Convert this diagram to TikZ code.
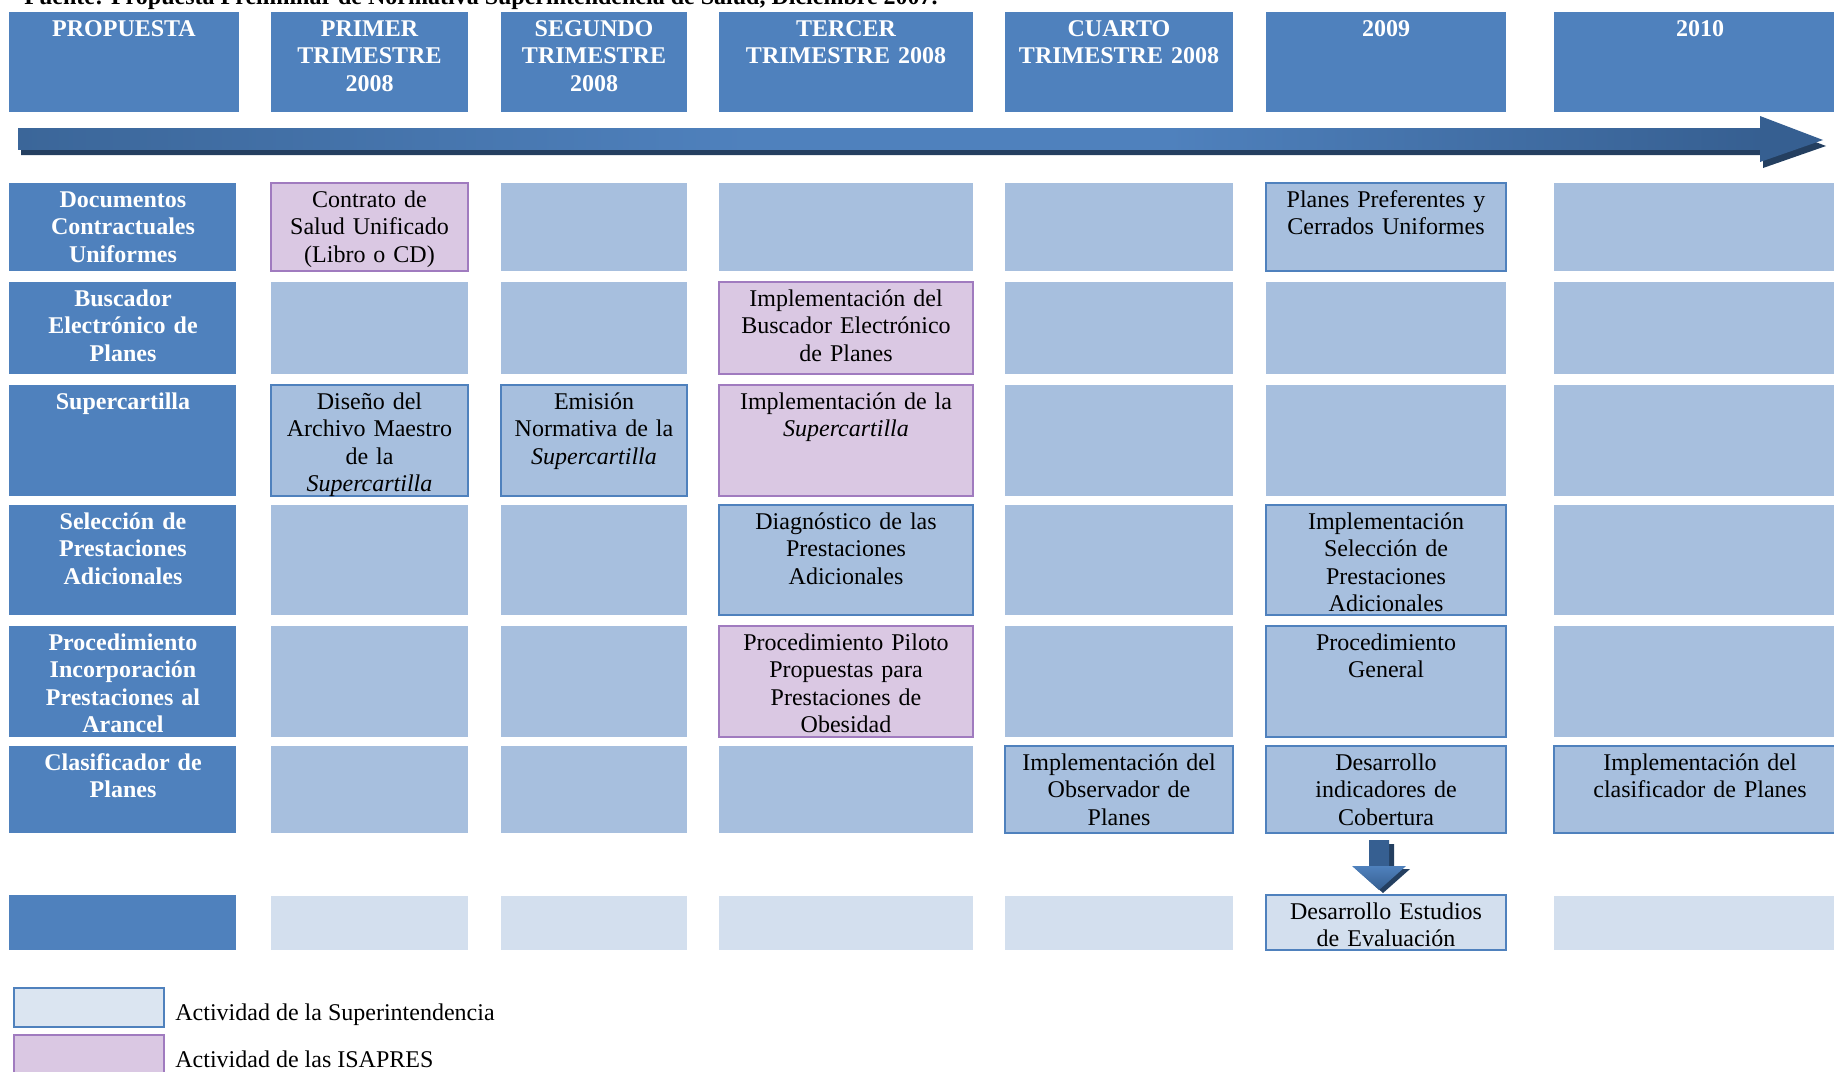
\documentclass[tikz,border=0pt]{standalone}
\usepackage{fontspec}
\setmainfont{Liberation Serif}
\usetikzlibrary{fit,calc}

\definecolor{hdrblue}{HTML}{4F81BD}
\definecolor{cellblue}{HTML}{A7BFDE}
\definecolor{palecell}{HTML}{D3DFEE}
\definecolor{isafill}{HTML}{DAC8E3}
\definecolor{isaline}{HTML}{A07BBF}
\definecolor{legfill}{HTML}{DBE5F1}
\definecolor{arrowdark}{HTML}{365F91}
\definecolor{arrowmid}{HTML}{3B6699}
\definecolor{arrowshadow}{HTML}{243F60}

% band of the time line: darker at both ends, lighter in the middle
\pgfdeclarehorizontalshading{timeline}{100bp}{color(0bp)=(arrowmid);
  color(25bp)=(arrowmid); color(46bp)=(hdrblue); color(58bp)=(hdrblue);
  color(75bp)=(arrowdark); color(100bp)=(arrowdark)}

\tikzset{
  txt/.style={font=\fontsize{12}{13.8}\selectfont},
  celltext/.style={txt, anchor=north, text width=120pt, align=center,
    inner xsep=0pt, inner ysep=2.2pt, execute at begin node=\strut},
  hdrtext/.style={celltext, text=white, font=\fontsize{12}{13.8}\selectfont\bfseries},
  supcell/.style={draw=hdrblue, fill=cellblue, line width=1pt, inner sep=0pt, outer sep=0pt},
  isacell/.style={draw=isaline, fill=isafill, line width=1pt, inner sep=0pt, outer sep=0pt},
}

\begin{document}
\begin{tikzpicture}[x=0.5pt, y=-0.5pt]
\path[use as bounding box, clip] (0,0) rectangle (1834,1071);

% source line (only its lower part is on the page)
\node[font=\fontsize{12}{13.8}\selectfont\bfseries, anchor=base west, inner sep=0pt] (fuente)
    at (24,4) {Fuente: Propuesta Preliminar de Normativa Superintendencia de Salud, Diciembre 2007.};

% column headers
\foreach \xa/\xb/\nm/\hd in {9/239/hProp/PROPUESTA,
        271/468/hPrimer/{PRIMER\\TRIMESTRE\\2008},
        501/687/hSegundo/{SEGUNDO\\TRIMESTRE\\2008},
        719/973/hTercer/{TERCER\\TRIMESTRE 2008},
        1005/1233/hCuarto/{CUARTO\\TRIMESTRE 2008},
        1266/1506/hNueve/2009, 1554/1846/hDiez/2010}{
    \fill[hdrblue] (\xa,12) rectangle (\xb,112);
    \node[hdrtext] (\nm) at ({(\xa+\xb)/2},12) {\hd};
}

% time line
\fill[arrowshadow] (21,134) -- (1763,134) -- (1763,122) -- (1826,146)
    -- (1763,168) -- (1763,155) -- (21,155) -- cycle;
\shade[shading=timeline] (18,128) rectangle (1761,149);
\fill[arrowdark] (1760,116) -- (1823,140) -- (1760,162) -- cycle;

% row headers
\foreach \ya/\yb/\nm/\rh in {183/271/rDocs/{Documentos\\Contractuales\\Uniformes},
        282/374/rBusc/{Buscador\\Electrónico de\\Planes},
        385/496/rSuper/Supercartilla,
        505/615/rSel/{Selección de\\Prestaciones\\Adicionales},
        626/737/rProc/{Procedimiento\\Incorporación\\Prestaciones al\\Arancel},
        746/833/rClas/{Clasificador de\\Planes}}{
    \fill[hdrblue] (9,\ya) rectangle (236,\yb);
    \node[hdrtext] (\nm) at (123,\ya) {\rh};
}

% empty grid
\foreach \ya/\yb in {183/271, 282/374, 385/496, 505/615, 626/737, 746/833}
  \foreach \xa/\xb in {271/468, 501/687, 719/973, 1005/1233, 1266/1506, 1554/1846}
    \fill[cellblue] (\xa,\ya) rectangle (\xb,\yb);

\fill[hdrblue] (9,895) rectangle (236,950);
\foreach \xa/\xb in {271/468, 501/687, 719/973, 1005/1233, 1266/1506, 1554/1846}
    \fill[palecell] (\xa,896) rectangle (\xb,950);

% activities
\node[isacell, fit={(271,183) (468,271)}] (contrato) {};
\node[celltext] (contratoT) at (contrato.north) {Contrato de\\Salud Unificado\\(Libro o CD)};
\node[supcell, fit={(1266,183) (1506,271)}] (planes) {};
\node[celltext] (planesT) at (planes.north) {Planes Preferentes y\\Cerrados Uniformes};

\node[isacell, fit={(719,282) (973,374)}] (buscador) {};
\node[celltext] (buscadorT) at (buscador.north) {Implementación del\\Buscador Electrónico\\de Planes};

\node[supcell, fit={(271,385) (468,496)}] (diseno) {};
\node[celltext] (disenoT) at (diseno.north) {Diseño del\\Archivo Maestro\\de la\\\textit{Supercartilla}};
\node[supcell, fit={(501,385) (687,496)}] (emision) {};
\node[celltext] (emisionT) at (emision.north) {Emisión\\Normativa de la\\\textit{Supercartilla}};
\node[isacell, fit={(719,385) (973,496)}] (implSuper) {};
\node[celltext] (implSuperT) at (implSuper.north) {Implementación de la\\\textit{Supercartilla}};

\node[supcell, fit={(719,505) (973,615)}] (diagnos) {};
\node[celltext] (diagnosT) at (diagnos.north) {Diagnóstico de las\\Prestaciones\\Adicionales};
\node[supcell, fit={(1266,505) (1506,615)}] (implSel) {};
\node[celltext] (implSelT) at (implSel.north) {Implementación\\Selección de\\Prestaciones\\Adicionales};

\node[isacell, fit={(719,626) (973,737)}] (piloto) {};
\node[celltext] (pilotoT) at (piloto.north) {Procedimiento Piloto\\Propuestas para\\Prestaciones de\\Obesidad};
\node[supcell, fit={(1266,626) (1506,737)}] (general) {};
\node[celltext] (generalT) at (general.north) {Procedimiento\\General};

\node[supcell, fit={(1005,746) (1233,833)}] (observ) {};
\node[celltext] (observT) at (observ.north) {Implementación del\\Observador de\\Planes};
\node[supcell, fit={(1266,746) (1506,833)}] (indic) {};
\node[celltext] (indicT) at (indic.north) {Desarrollo\\indicadores de\\Cobertura};
\node[supcell, fit={(1554,746) (1846,833)}] (clasif) {};
\node[celltext] (clasifT) at (clasif.north) {Implementación del\\clasificador de Planes};

\node[supcell, fill=palecell, fit={(1266,895) (1506,950)}] (estudios) {};
\node[celltext] (estudiosT) at (estudios.north) {Desarrollo Estudios\\de Evaluación};

% block arrow between the two
\coordinate (aTop) at ($(indic.south)+(-7,7)$);
\coordinate (aTip) at ($(estudios.north)+(-7,-5)$);
\fill[arrowshadow] ($(aTop)+(-5,4)$) -- ($(aTop)+(15,4)$) -- ($(aTip)+(15,-21)$)
    -- ($(aTip)+(31,-21)$) -- ($(aTip)+(4,3)$) -- ($(aTip)+(-23,-21)$)
    -- ($(aTip)+(-5,-21)$) -- cycle;
\shade[left color=arrowdark, middle color=hdrblue, right color=arrowdark]
    ($(aTop)+(-10,0)$) rectangle ($(aTip)+(10,-23)$);
\shade[top color=hdrblue, bottom color=arrowdark]
    ($(aTip)+(-27,-24)$) -- ($(aTip)+(27,-24)$) -- (aTip) -- cycle;

% legend
\node[supcell, fill=legfill, fit={(14,988) (164,1027)}] (legSup) {};
\node[txt, anchor=base west, inner sep=0pt] (legSupT) at (175,1020) {Actividad de la Superintendencia};
\node[isacell, fit={(14,1035) (164,1085)}] (legIsa) {};
\node[txt, anchor=base west, inner sep=0pt] (legIsaT) at (175,1067) {Actividad de las ISAPRES};
\end{tikzpicture}
\end{document}
